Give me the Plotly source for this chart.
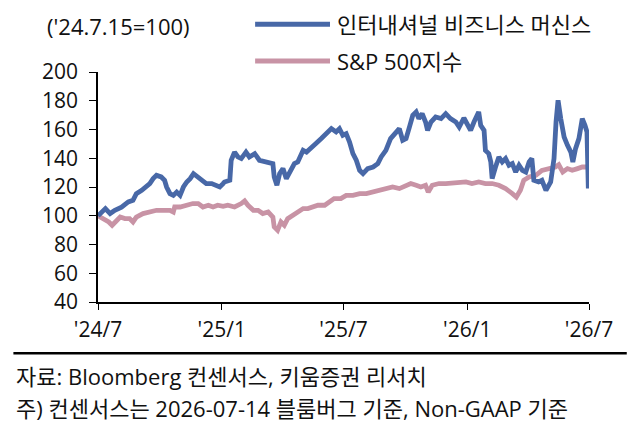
import plotly.graph_objects as go

# ---- data ('24.7.15 = 100) ----
ibm_dates = [
    "2024-07-15", "2024-07-26", "2024-08-02", "2024-08-09", "2024-08-19", "2024-08-29",
    "2024-09-05", "2024-09-10", "2024-09-18", "2024-09-25", "2024-09-30", "2024-10-05",
    "2024-10-10", "2024-10-17", "2024-10-22", "2024-10-25", "2024-10-30", "2024-11-04",
    "2024-11-09", "2024-11-14", "2024-11-19", "2024-11-24", "2024-11-29", "2024-12-04",
    "2024-12-11", "2024-12-16", "2024-12-23", "2024-12-31", "2025-01-07", "2025-01-12",
    "2025-01-17", "2025-01-19", "2025-01-27", "2025-01-29", "2025-02-03", "2025-02-08",
    "2025-02-13", "2025-02-20", "2025-02-25", "2025-03-05", "2025-03-12", "2025-03-20",
    "2025-03-27", "2025-04-01", "2025-04-03", "2025-04-07", "2025-04-11", "2025-04-16",
    "2025-04-21", "2025-04-26", "2025-05-03", "2025-05-08", "2025-05-16", "2025-05-21",
    "2025-05-28", "2025-06-04", "2025-06-12", "2025-06-19", "2025-06-27", "2025-07-04",
    "2025-07-09", "2025-07-14", "2025-07-19", "2025-07-24", "2025-07-29", "2025-08-03",
    "2025-08-08", "2025-08-13", "2025-08-20", "2025-08-28", "2025-09-04", "2025-09-09",
    "2025-09-16", "2025-09-23", "2025-09-28", "2025-10-06", "2025-10-11", "2025-10-16",
    "2025-10-21", "2025-10-26", "2025-10-31", "2025-11-04", "2025-11-09", "2025-11-14",
    "2025-11-17", "2025-11-22", "2025-11-29", "2025-12-07", "2025-12-14", "2025-12-21",
    "2025-12-29", "2026-01-03", "2026-01-10", "2026-01-15", "2026-01-20", "2026-01-25",
    "2026-01-30", "2026-02-01", "2026-02-04", "2026-02-09", "2026-02-11", "2026-02-16",
    "2026-02-19", "2026-02-21", "2026-02-26", "2026-03-03", "2026-03-08", "2026-03-13",
    "2026-03-18", "2026-03-23", "2026-03-28", "2026-04-02", "2026-04-07", "2026-04-12",
    "2026-04-17", "2026-04-21", "2026-04-24", "2026-05-01", "2026-05-06", "2026-05-12",
    "2026-05-19", "2026-05-24", "2026-05-27", "2026-05-30", "2026-06-03", "2026-06-08",
    "2026-06-13", "2026-06-18", "2026-06-21", "2026-06-25", "2026-06-30", "2026-07-05",
    "2026-07-09", "2026-07-12", "2026-07-14",
]
ibm_values = [
    100, 105, 101.5, 103.8, 106, 109.6,
    110.7, 115.4, 117.7, 120, 122.4, 125.8,
    128.1, 127, 124.7, 120, 115.4, 114.2,
    116.5, 114.2, 120, 123.5, 125.8, 129.3,
    127, 124.7, 122.4, 122.4, 121.2, 120,
    122.4, 123.5, 124.7, 138.6, 144.3, 140.9,
    139.8, 144.3, 140.9, 143.2, 138.6, 137.4,
    136.3, 136.3, 127, 121.2, 129.3, 132.8,
    125.8, 130.4, 136.3, 137.4, 145.5, 144.3,
    147.8, 150.2, 153.7, 157.1, 160.6, 158.3,
    160.6, 156, 157.1, 151.3, 143.2, 138.6,
    131.6, 129.3, 132.8, 133.9, 136.3, 140.9,
    145.5, 153.7, 156, 160.6, 152.5, 153.7,
    161.7, 169.9, 172.2, 167.6, 171, 165.2,
    159.4, 165.2, 168.7, 167.6, 171, 167.6,
    165.2, 161.7, 168, 164, 159.4, 165.2,
    171, 172.2, 162.9, 159.4, 145.5, 143.2,
    137.4, 125.8, 133.9, 140.9, 137.4, 139.8,
    135.1, 136.3, 130.4, 135.1, 131.6, 130.4,
    137.4, 139.8, 124.7, 123.5, 124.7, 117.7,
    123.5, 139.8, 165.2, 180.3, 167.6, 154.8,
    149, 144.3, 137.4, 146.7, 153.7, 167.6,
    162.9, 158.3, 119,
]

spx_dates = [
    "2024-07-15", "2024-07-23", "2024-07-31", "2024-08-05", "2024-08-09", "2024-08-17",
    "2024-08-24", "2024-08-31", "2024-09-05", "2024-09-10", "2024-09-20", "2024-09-30",
    "2024-10-10", "2024-10-20", "2024-10-30", "2024-11-04", "2024-11-06", "2024-11-14",
    "2024-11-24", "2024-12-03", "2024-12-11", "2024-12-18", "2024-12-26", "2025-01-02",
    "2025-01-09", "2025-01-17", "2025-01-24", "2025-02-03", "2025-02-13", "2025-02-18",
    "2025-02-23", "2025-03-03", "2025-03-10", "2025-03-17", "2025-03-25", "2025-04-01",
    "2025-04-03", "2025-04-08", "2025-04-13", "2025-04-18", "2025-04-23", "2025-05-01",
    "2025-05-08", "2025-05-16", "2025-05-23", "2025-05-30", "2025-06-07", "2025-06-17",
    "2025-06-24", "2025-07-01", "2025-07-11", "2025-07-19", "2025-07-29", "2025-08-08",
    "2025-08-18", "2025-08-28", "2025-09-07", "2025-09-16", "2025-09-26", "2025-10-06",
    "2025-10-16", "2025-10-23", "2025-10-31", "2025-11-07", "2025-11-14", "2025-11-18",
    "2025-11-24", "2025-12-04", "2025-12-14", "2025-12-24", "2026-01-03", "2026-01-13",
    "2026-01-22", "2026-02-01", "2026-02-11", "2026-02-21", "2026-03-03", "2026-03-13",
    "2026-03-23", "2026-03-29", "2026-04-04", "2026-04-09", "2026-04-17", "2026-04-27",
    "2026-05-06", "2026-05-16", "2026-05-26", "2026-05-31", "2026-06-06", "2026-06-13",
    "2026-06-20", "2026-06-28", "2026-07-05", "2026-07-14",
]
spx_values = [
    100, 98, 95.7, 93.4, 95.7, 99.1,
    98, 98, 95.7, 99.1, 101.5, 102.6,
    103.8, 103.8, 103.8, 102.6, 106.1, 106.1,
    107.3, 108.5, 108.5, 106.1, 107.3, 106.1,
    107.3, 106.5, 107.3, 106.1, 108.5, 110.3,
    107.3, 103.8, 103.8, 101.5, 102.6, 99.1,
    92.2, 89.9, 95.7, 93.4, 98, 100.3,
    102.6, 105, 105, 106.1, 107.3, 107.3,
    109.6, 111.9, 111.9, 114.2, 114.2, 115.4,
    115.4, 116.5, 117.7, 118.9, 120, 118.9,
    121.2, 122.4, 121.2, 120, 121.2, 116.5,
    121.2, 122.4, 122.4, 123, 123, 123.5,
    122.4, 123.5, 122.4, 122.4, 121.2, 118.9,
    115.4, 113, 117.7, 124.7, 127, 128.1,
    131.6, 132.8, 133.9, 135.5, 130.4, 132.8,
    131.6, 132.8, 133.9, 133.9,
]

series_names = ["인터내셔널 비즈니스 머신스", "S&P 500지수"]
tick_dates = ["2024-07-15", "2025-01-15", "2025-07-15", "2026-01-15", "2026-07-15"]
tick_labels = ["'24/7", "'25/1", "'25/7", "'26/1", "'26/7"]
y_ticks = [40, 60, 80, 100, 120, 140, 160, 180, 200]

BLUE = "#4868a7"
PINK = "#c893a5"
FONT = "Open Sans, Noto Sans CJK KR"
TXT = "#111111"

fig = go.Figure()
fig.add_trace(go.Scatter(x=spx_dates, y=spx_values, mode="lines", name=series_names[1],
                         line=dict(color=PINK, width=4.8), showlegend=False))
fig.add_trace(go.Scatter(x=ibm_dates, y=ibm_values, mode="lines", name=series_names[0],
                         line=dict(color=BLUE, width=4.8), showlegend=False))

fig.update_layout(
    width=630, height=433,
    margin=dict(l=98, r=41, t=72, b=131),
    paper_bgcolor="white", plot_bgcolor="white",
    font=dict(family=FONT, color=TXT, size=21, weight=400),
)
fig.update_xaxes(
    type="date", range=["2024-07-15", "2026-07-15"],
    tickvals=tick_dates, ticktext=tick_labels,
    showgrid=False, zeroline=False,
    showline=True, linecolor="black", linewidth=1.6,
    ticks="outside", ticklen=6, tickwidth=1.4, tickcolor="black",
    tickfont=dict(size=21), ticklabelstandoff=2,
)
fig.update_yaxes(
    range=[40, 200], tickvals=y_ticks,
    showgrid=False, zeroline=False,
    showline=True, linecolor="black", linewidth=1.6,
    ticks="outside", ticklen=7, tickwidth=1.4, tickcolor="black",
    tickfont=dict(size=21), ticklabelstandoff=7,
)

# custom legend (line samples + labels)
legend_rows = [(series_names[0], BLUE, 1.2074), (series_names[1], PINK, 1.0478)]
for name, color, yy in legend_rows:
    fig.add_shape(type="line", xref="paper", yref="paper",
                  x0=0.320, x1=0.4725, y0=yy, y1=yy,
                  line=dict(color=color, width=5))
    fig.add_annotation(text=name, xref="paper", yref="paper", x=0.4827, y=yy,
                       xanchor="left", yanchor="middle", showarrow=False,
                       font=dict(size=22, family=FONT))

fig.add_annotation(text="('24.7.15=100)", xref="paper", yref="paper", x=-0.1072, y=1.1987,
                   xanchor="left", yanchor="middle", showarrow=False,
                   font=dict(size=22, family=FONT))

# separator line + source notes
fig.add_shape(type="line", xref="paper", yref="paper", x0=-0.1723, x1=1.0769,
              y0=-0.223, y1=-0.223, line=dict(color="black", width=2.5))
fig.add_annotation(text="자료: Bloomberg 컨센서스, 키움증권 리서치", xref="paper", yref="paper",
                   x=-0.1703, y=-0.323, xanchor="left", yanchor="middle", showarrow=False,
                   font=dict(size=22, family=FONT))
fig.add_annotation(text="주) 컨센서스는 2026-07-14 블룸버그 기준, Non-GAAP 기준", xref="paper",
                   yref="paper", x=-0.1703, y=-0.462, xanchor="left", yanchor="middle",
                   showarrow=False, font=dict(size=22, family=FONT))

fig.write_html("out.html")
